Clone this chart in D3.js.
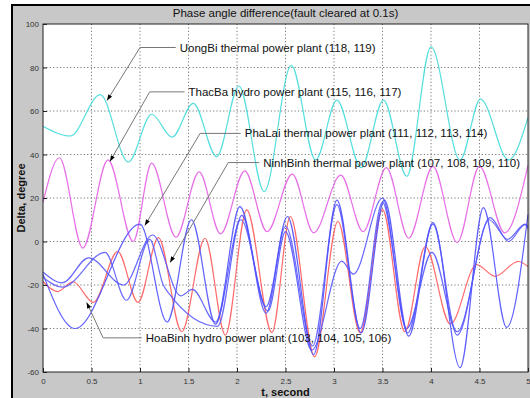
<!DOCTYPE html>
<html>
<head>
<meta charset="utf-8">
<script src="https://cdn.jsdelivr.net/npm/d3@7"></script>
<style>
  html, body { margin: 0; padding: 0; background: #fff; }
  svg { display: block; font-family: "Liberation Sans", Arial, sans-serif; }
</style>
</head>
<body>
<div id="chart"></div>
<script>
// peaks and troughs, [t, delta]
const uongBi = [[0,53],[0.28,48.5],[0.59,67.5],[0.88,36.5],[1.12,58.5],[1.33,48],[1.55,63.5],[1.79,39],[2.02,71.5],[2.28,23],[2.56,81],[2.81,37.5],[3.03,65],[3.28,34],[3.51,65],[3.75,30],[4.0,89.5],[4.3,37.5],[4.51,65.5],[4.8,37.5],[5,57]];
const thacBa = [[0,18],[0.17,38.5],[0.41,-3],[0.67,37.5],[0.93,0],[1.12,36],[1.37,2],[1.61,32],[1.83,3.5],[2.08,32.5],[2.31,4.5],[2.57,31],[2.79,4],[3.07,30.5],[3.3,4.5],[3.54,34],[3.77,1.5],[4.02,34.5],[4.27,-0.5],[4.5,34.5],[4.76,4],[5,35]];
const hoaBinh = [[0,-18.5],[0.15,-23],[0.31,-18.5],[0.52,-28],[0.77,-4.6],[0.98,-28],[1.19,1.8],[1.43,-41.5],[1.67,1.5],[1.88,-43],[2.1,14.5],[2.36,-41.8],[2.55,11.5],[2.8,-53],[3.04,9.2],[3.27,-42],[3.5,14.7],[3.73,-41.5],[3.94,-2.3],[4.2,-38],[4.47,-10.6],[4.66,-16],[4.9,-9.2],[5,-11.5]];
const phaLai = [[0,-15],[0.33,-40],[1.0,8],[1.28,-37],[1.53,10],[1.78,-38],[2.03,16],[2.3,-30],[2.52,11.5],[2.79,-52],[3.03,19],[3.28,-42],[3.52,19],[3.77,-43.5],[4.02,8.7],[4.3,-58],[4.54,15.6],[4.78,-39.5],[5,12.4]];
const ninhBinh = [[0,-14],[0.2,-19],[0.47,-7.5],[0.83,-20],[1.13,3],[1.42,-25],[1.54,-22],[1.78,-37],[2.04,10],[2.32,-32],[2.5,4.5],[2.77,-50],[3.08,-9],[3.2,-15],[3.5,20],[3.75,-40],[4.01,-5],[4.27,-41.5],[4.61,11],[4.8,0],[4.97,7.8],[5,6]];
const thirdGroup = [[0,-16.5],[0.2,-21],[0.64,-5],[0.86,-27],[1.1,1],[1.24,-20],[1.3,-24],[1.8,-39],[2.05,12],[2.3,-33],[2.5,7],[2.78,-48],[3.03,17],[3.27,-40],[3.5,18],[3.76,-42],[4.02,8],[4.27,-43],[4.6,10],[4.79,1],[4.97,8],[5,7]];

const xTicks = [0, 0.5, 1, 1.5, 2, 2.5, 3, 3.5, 4, 4.5, 5];
const yTicks = [-60, -40, -20, 0, 20, 40, 60, 80, 100];

// label text, arrow tip, elbow, text start (data coords)
const notes = [
  {text: "UongBi thermal power plant (118, 119)", tip: [0.66, 64.8], elbow: [1.0, 89.2], tx: 1.41},
  {text: "ThacBa hydro power plant (115, 116, 117)", tip: [0.69, 36.8], elbow: [1.1, 68.8], tx: 1.5},
  {text: "PhaLai thermal power plant (111, 112, 113, 114)", tip: [1.05, 7.4], elbow: [1.62, 49.7], tx: 2.08},
  {text: "NinhBinh thermal power plant (107, 108, 109, 110)", tip: [1.31, -9.7], elbow: [1.91, 36.3], tx: 2.27},
  {text: "HoaBinh hydro power plant (103, 104, 105, 106)", tip: [0.45, -28], elbow: [0.62, -44.3], tx: 1.06}
];

const W = 530, H = 398;
const m = {left: 43, right: 2, top: 24, bottom: 26};

const svg = d3.select("#chart").append("svg")
  .attr("width", W).attr("height", H);

// figure window: white edge, black frame, gray face
svg.append("rect").attr("width", W).attr("height", H).attr("fill", "#fff");
svg.append("rect").attr("x", 11).attr("y", 4).attr("width", W - 11).attr("height", H - 4).attr("fill", "#000");
svg.append("rect").attr("x", 13).attr("y", 6).attr("width", W - 13).attr("height", H - 6).attr("fill", "#c8c8c8");

const x = d3.scaleLinear().domain([0, 5]).range([m.left, W - m.right]);
const y = d3.scaleLinear().domain([-60, 100]).range([H - m.bottom, m.top]);

svg.append("rect")
  .attr("x", x(0)).attr("y", y(100))
  .attr("width", x(5) - x(0)).attr("height", y(-60) - y(100))
  .attr("fill", "#fff");

// grid
const grid = svg.append("g").attr("stroke", "#555").attr("stroke-width", 0.8).attr("stroke-dasharray", "1.2,2.2");
grid.selectAll(".gx").data(xTicks.slice(1, -1)).join("line")
  .attr("x1", d => x(d)).attr("x2", d => x(d)).attr("y1", y(-60)).attr("y2", y(100));
grid.selectAll(".gy").data(yTicks.slice(1, -1)).join("line")
  .attr("y1", d => y(d)).attr("y2", d => y(d)).attr("x1", x(0)).attr("x2", x(5));

// lines
const line = d3.line().x(d => x(d[0])).y(d => y(d[1])).curve(d3.curveMonotoneX);
const series = [
  {data: uongBi, color: "#45dada"},
  {data: thacBa, color: "#e45ee4"},
  {data: hoaBinh, color: "#ff5b5b"},
  {data: thirdGroup, color: "#5b5bff"},
  {data: ninhBinh, color: "#5555ff"},
  {data: phaLai, color: "#4f4fff"}
];
svg.append("g").selectAll("path").data(series).join("path")
  .attr("d", d => line(d.data))
  .attr("fill", "none")
  .attr("stroke", d => d.color)
  .attr("stroke-width", 1.2)
  .attr("stroke-opacity", 0.9);

// axes (ticks inside, like matlab)
const fmt = d => String(d);
svg.append("g").attr("transform", `translate(0,${y(-60)})`)
  .call(d3.axisBottom(x).tickValues(xTicks).tickSize(-4).tickPadding(6).tickFormat(fmt))
  .call(g => g.select(".domain").remove());
svg.append("g").attr("transform", `translate(${x(0)},0)`)
  .call(d3.axisLeft(y).tickValues(yTicks).tickSize(-4).tickPadding(4).tickFormat(fmt))
  .call(g => g.select(".domain").remove());
svg.selectAll(".tick text").attr("font-size", 8).attr("fill", "#333").attr("font-family", "Liberation Sans, Arial, sans-serif");
svg.selectAll(".tick line").attr("stroke", "#222");

svg.append("rect")
  .attr("x", x(0)).attr("y", y(100))
  .attr("width", x(5) - x(0)).attr("height", y(-60) - y(100))
  .attr("fill", "none").attr("stroke", "#222").attr("stroke-width", 1);

// annotations
const ann = svg.append("g");
notes.forEach(n => {
  ann.append("polyline")
    .attr("points", [[x(n.tip[0]), y(n.tip[1])], [x(n.elbow[0]), y(n.elbow[1])], [x(n.tx) - 4, y(n.elbow[1])]].join(" "))
    .attr("fill", "none").attr("stroke", "#777").attr("stroke-width", 1);
  const ang = Math.atan2(y(n.tip[1]) - y(n.elbow[1]), x(n.tip[0]) - x(n.elbow[0]));
  const tx = x(n.tip[0]), ty = y(n.tip[1]);
  const L = 6, Wd = 2.2;
  const bx = tx - L * Math.cos(ang), by = ty - L * Math.sin(ang);
  ann.append("polygon")
    .attr("points", [[tx, ty],
      [bx + Wd * Math.sin(ang), by - Wd * Math.cos(ang)],
      [bx - Wd * Math.sin(ang), by + Wd * Math.cos(ang)]].join(" "))
    .attr("fill", "#000");
  ann.append("text")
    .attr("x", x(n.tx)).attr("y", y(n.elbow[1]))
    .attr("dy", "0.35em")
    .attr("font-size", 11.5).attr("fill", "#111")
    .text(n.text);
});

// title and labels
svg.append("text")
  .attr("x", (x(0) + x(5)) / 2).attr("y", 13).attr("dy", "0.35em")
  .attr("text-anchor", "middle").attr("font-size", 11.5).attr("fill", "#111")
  .text("Phase angle difference(fault cleared at 0.1s)");
svg.append("text")
  .attr("x", (x(0) + x(5)) / 2).attr("y", 392).attr("dy", "0.35em")
  .attr("text-anchor", "middle").attr("font-size", 11).attr("font-weight", "bold").attr("fill", "#111")
  .text("t, second");
svg.append("text")
  .attr("transform", `translate(21,${(y(-60) + y(100)) / 2}) rotate(-90)`)
  .attr("dy", "0.35em")
  .attr("text-anchor", "middle").attr("font-size", 11).attr("font-weight", "bold").attr("fill", "#111")
  .text("Delta, degree");
</script>
</body>
</html>
